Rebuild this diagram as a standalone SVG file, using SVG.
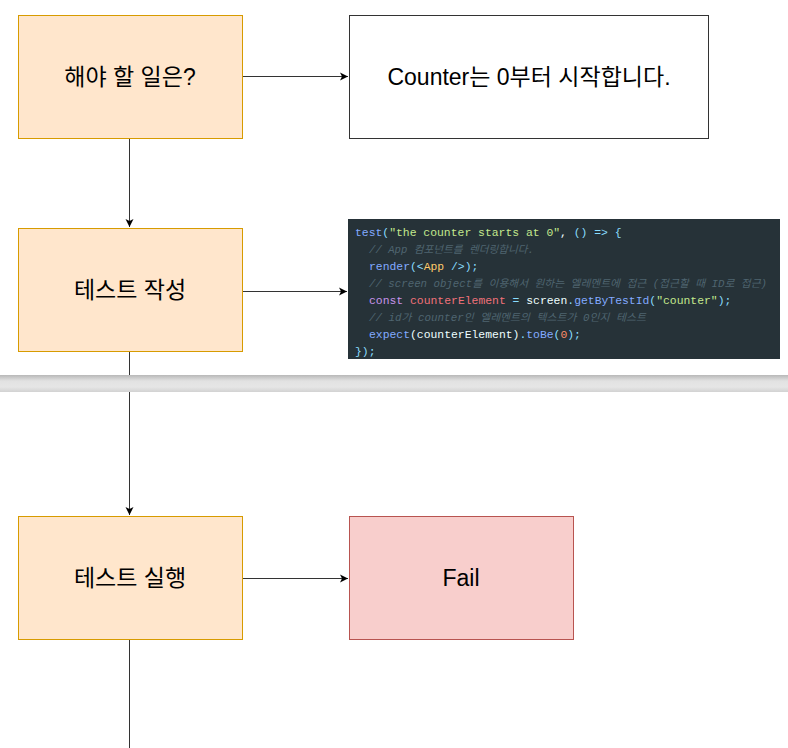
<svg xmlns="http://www.w3.org/2000/svg" width="788" height="748" viewBox="0 0 788 748">
<defs>
<marker id="arr" markerWidth="10" markerHeight="10" refX="9" refY="5" orient="auto" markerUnits="userSpaceOnUse">
<path d="M1,1 L9,5 L1,9 L3,5 Z" fill="#000"/>
</marker>
<linearGradient id="band" x1="0" y1="0" x2="0" y2="1">
<stop offset="0" stop-color="#b8b8b8"/>
<stop offset="0.35" stop-color="#e2e2e2"/>
<stop offset="0.7" stop-color="#e6e6e6"/>
<stop offset="1" stop-color="#d2d2d2"/>
</linearGradient>
<style>
.orange{fill:#ffe6cc;stroke:#d79b00;stroke-width:1}
.white{fill:#fff;stroke:#333;stroke-width:1}
.red{fill:#f8cecc;stroke:#b85450;stroke-width:1}
.lbl{font-family:"Liberation Sans","Noto Sans CJK KR",sans-serif;font-size:23px;fill:#000;text-anchor:middle}
.conn{stroke:#333;stroke-width:1;fill:none}
.code{font-family:"Liberation Mono","Noto Sans CJK KR",monospace;font-size:11.4px;fill:#eeffff}
.cm{fill:#4f6570;font-style:italic;font-size:10.4px}
.bl{fill:#82aaff}.cy{fill:#89ddff}.gr{fill:#c3e88d}.pu{fill:#c792ea}.rd{fill:#f07178}.ye{fill:#ffcb6b}.or{fill:#f78c6c}.wh{fill:#eeffff}
</style>
</defs>
<g id="connectors">
<path class="conn" d="M242.5,76.5 H348" marker-end="url(#arr)"/>
<path class="conn" d="M129.5,138 V227" marker-end="url(#arr)"/>
<path class="conn" d="M242.5,291.5 H347" marker-end="url(#arr)"/>
<path class="conn" d="M129.5,351 V515" marker-end="url(#arr)"/>
<path class="conn" d="M242.5,578.5 H348" marker-end="url(#arr)"/>
<path class="conn" d="M129.5,639 V748"/>
</g>
<g id="n1"><rect class="orange" x="18.5" y="15.5" width="224" height="123"/><text class="lbl" x="130" y="85">해야 할 일은?</text></g>
<g id="n2"><rect class="white" x="349.5" y="15.5" width="359" height="123"/><text class="lbl" x="529" y="85">Counter는 0부터 시작합니다.</text></g>
<g id="n3"><rect class="orange" x="18.5" y="228.5" width="224" height="123"/><text class="lbl" x="130" y="298">테스트 작성</text></g>
<g id="n4">
<rect x="348" y="219" width="432" height="140" fill="#263238"/>
<text class="code" x="355" y="236"><tspan class="bl">test</tspan><tspan class="cy">(</tspan><tspan class="gr">"the counter starts at 0"</tspan><tspan class="wh">, </tspan><tspan class="cy">() =&gt; {</tspan></text>
<text class="code cm" x="369" y="253" textLength="165" lengthAdjust="spacingAndGlyphs">// App 컴포넌트를 렌더링합니다.</text>
<text class="code" x="369" y="270"><tspan class="bl">render</tspan><tspan class="cy">(&lt;</tspan><tspan class="ye">App</tspan><tspan class="cy"> /&gt;);</tspan></text>
<text class="code cm" x="369" y="287" textLength="398" lengthAdjust="spacingAndGlyphs">// screen object를 이용해서 원하는 엘레멘트에 접근 (접근할 때 ID로 접근)</text>
<text class="code" x="369" y="304"><tspan class="pu">const</tspan><tspan class="wh"> </tspan><tspan class="rd">counterElement</tspan><tspan class="wh"> </tspan><tspan class="cy">=</tspan><tspan class="wh"> screen</tspan><tspan class="cy">.</tspan><tspan class="bl">getByTestId</tspan><tspan class="cy">(</tspan><tspan class="gr">"counter"</tspan><tspan class="cy">);</tspan></text>
<text class="code cm" x="369" y="321" textLength="277" lengthAdjust="spacingAndGlyphs">// id가 counter인 엘레멘트의 텍스트가 0인지 테스트</text>
<text class="code" x="369" y="338"><tspan class="bl">expect</tspan><tspan class="wh">(counterElement)</tspan><tspan class="cy">.</tspan><tspan class="bl">toBe</tspan><tspan class="cy">(</tspan><tspan class="or">0</tspan><tspan class="cy">);</tspan></text>
<text class="code" x="355" y="355"><tspan class="cy">});</tspan></text>
</g>
<g id="divider"><rect x="0" y="375" width="788" height="17" fill="url(#band)"/></g>
<g id="n5"><rect class="orange" x="18.5" y="516.5" width="224" height="123"/><text class="lbl" x="130" y="586">테스트 실행</text></g>
<g id="n6"><rect class="red" x="349.5" y="516.5" width="224" height="123"/><text class="lbl" x="461" y="586">Fail</text></g>
</svg>
